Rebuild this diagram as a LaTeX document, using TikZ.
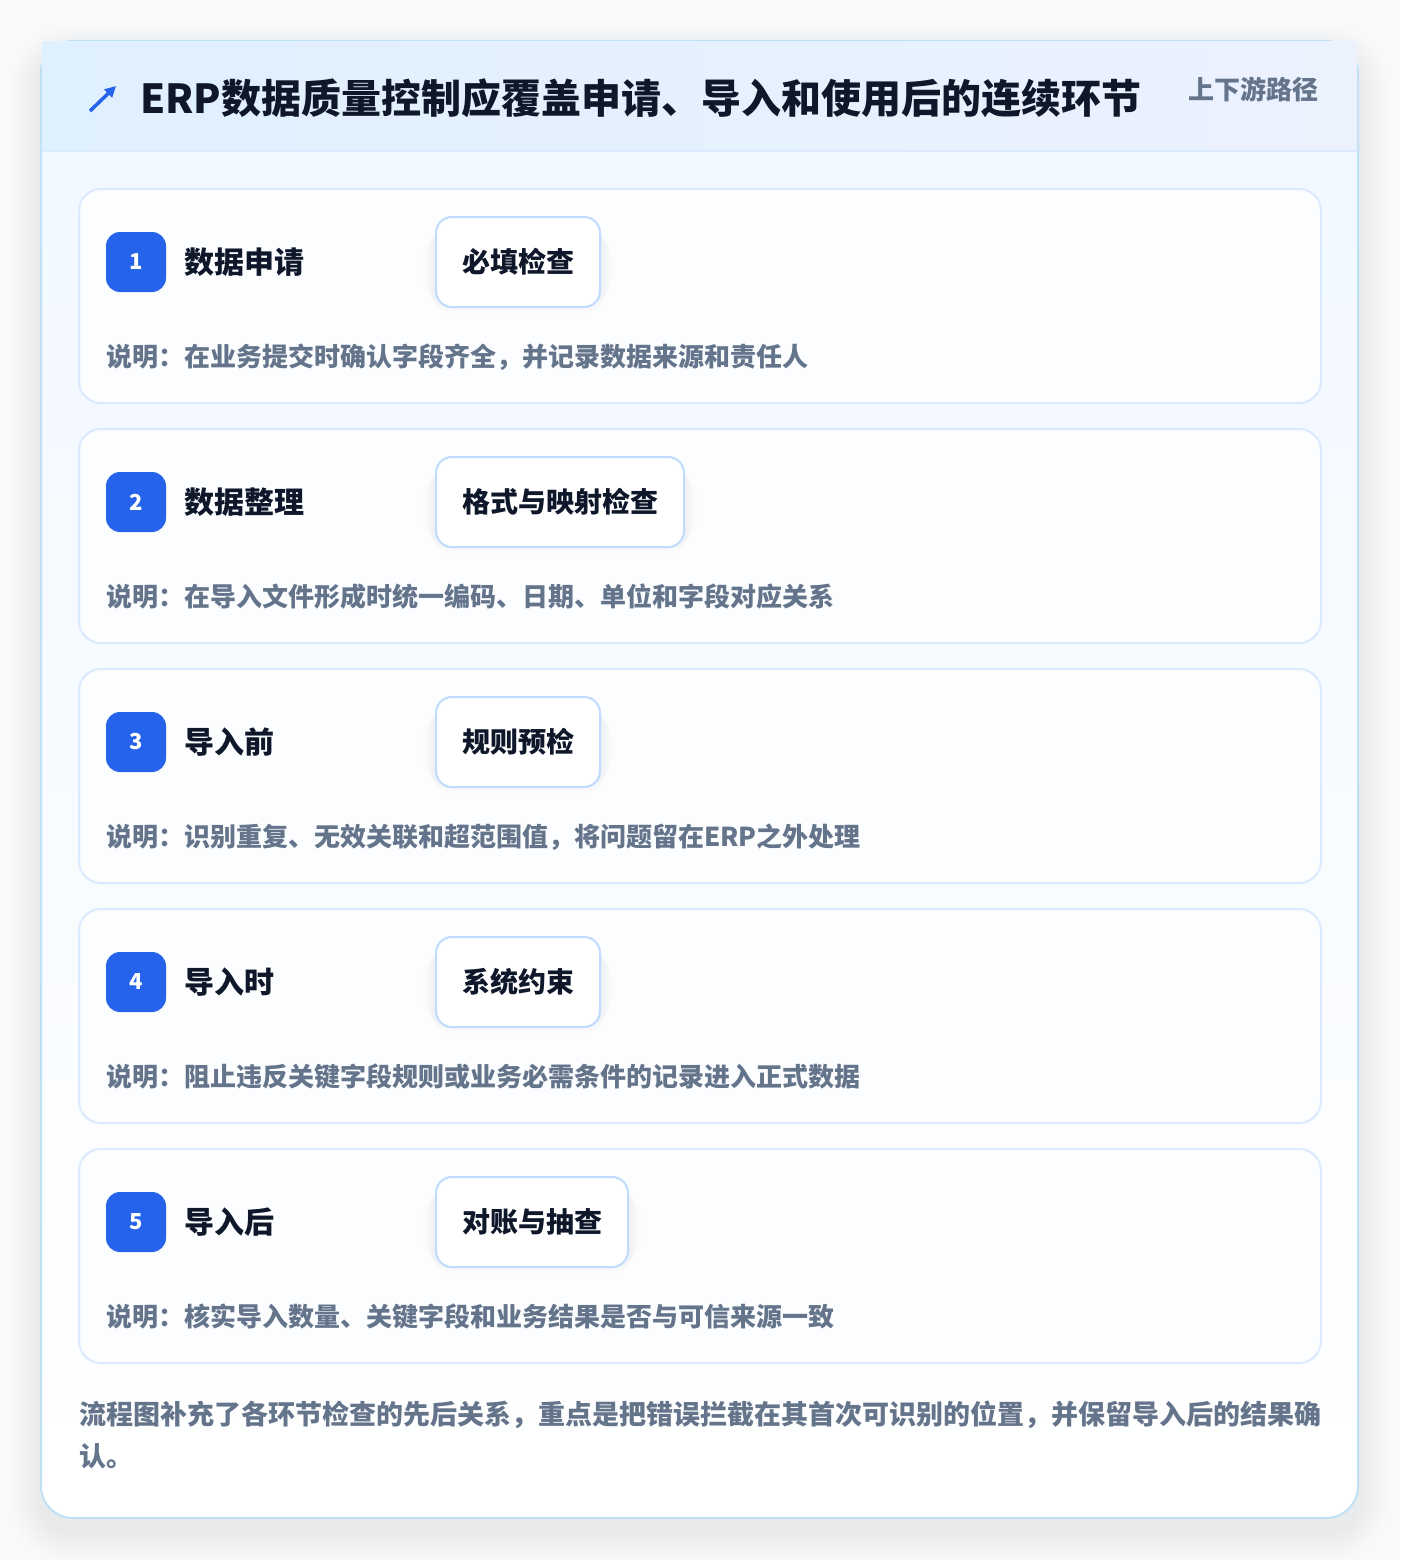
\documentclass[tikz,border=0pt]{standalone}
\usepackage{fontspec}
\setmainfont{Noto Sans CJK SC}
\usetikzlibrary{arrows.meta,positioning}

\definecolor{pagebg}{HTML}{F8F9FA}
\definecolor{inkdark}{HTML}{0F172A}
\definecolor{slatetext}{HTML}{64748B}
\definecolor{badgeblue}{HTML}{2563EB}
\definecolor{cardline}{HTML}{DBEAFE}
\definecolor{outerline}{HTML}{BFE1F6}
\definecolor{tagline}{HTML}{BFDBFE}
\definecolor{headleft}{HTML}{DFF0FE}
\definecolor{headright}{HTML}{ECF1FE}
\definecolor{bodytop}{HTML}{F1F8FF}
\definecolor{cardfill}{HTML}{FBFDFF}

\tikzset{
  stepcard/.style={draw=cardline,line width=2pt,rounded corners=22pt,fill=cardfill},
  badge/.style={fill=badgeblue,rounded corners=14pt,minimum size=60pt,inner sep=0pt,
    text=white,font=\fontsize{22}{26}\selectfont\bfseries},
  steptitle/.style={inner sep=0pt,text=inkdark,font=\fontsize{30}{36}\selectfont\bfseries},
  tagbox/.style={anchor=west,draw=tagline,line width=2pt,fill=white,rounded corners=16pt,
    minimum height=90pt,inner xsep=26pt,text=inkdark,font=\fontsize{28}{34}\selectfont\bfseries},
  softshade/.style={fill=black,opacity=#1},
  notetext/.style={anchor=west,inner sep=0pt,text=slatetext,font=\fontsize{26}{30}\selectfont\bfseries},
}

\begin{document}
\begin{tikzpicture}[x=1pt,y=-1pt]
%page and bounding box
    \fill[pagebg] (0,0) rectangle (1400,1560);
    \useasboundingbox (0,0) rectangle (1400,1560);

%outer card with soft shadow (stacked layers)
    \foreach \s in {2,4,...,30}
        \fill[softshade=0.0035,rounded corners=32pt+\s] (41-\s,41-\s+14) rectangle (1358+\s,1518+\s+14);
    \fill[white,rounded corners=32pt] (41,41) rectangle (1358,1518);
    \begin{scope}
      \clip[rounded corners=32pt] (41,41) rectangle (1358,1518);
      \shade[top color=bodytop,bottom color=white] (41,151) rectangle (1358,1518);
    \end{scope}
    \draw[outerline,line width=2pt,rounded corners=32pt] (41,41) rectangle (1358,1518);

%header band
    \shade[left color=headleft,right color=headright] (42,42) rectangle (1357,151);
    \draw[cardline,line width=2pt] (42,151) -- (1357,151);
    \coordinate (arrowtail) at (90,111);
    \coordinate (arrowhead) at (116,86);
    \draw[badgeblue,line width=3.5pt,-{Triangle[length=11pt,width=11pt]}] (arrowtail) -- (arrowhead);
    \node[anchor=west,inner sep=0pt,text=inkdark,font=\fontsize{40}{46}\selectfont\bfseries]
      (title) at (140,98) {ERP数据质量控制应覆盖申请、导入和使用后的连续环节};
    \node[anchor=east,inner sep=0pt,text=slatetext,font=\fontsize{26}{30}\selectfont\bfseries]
      (route) at (1319,89) {上下游路径};

%five stages
    \foreach \n/\stage/\check/\note in {
        1/数据申请/必填检查/{说明：在业务提交时确认字段齐全，并记录数据来源和责任人},
        2/数据整理/格式与映射检查/{说明：在导入文件形成时统一编码、日期、单位和字段对应关系},
        3/导入前/规则预检/{说明：识别重复、无效关联和超范围值，将问题留在ERP之外处理},
        4/导入时/系统约束/{说明：阻止违反关键字段规则或业务必需条件的记录进入正式数据},
        5/导入后/对账与抽查/{说明：核实导入数量、关键字段和业务结果是否与可信来源一致}}
    {
        \pgfmathsetmacro{\cardy}{189+(\n-1)*240}
        \draw[stepcard] (79,\cardy) rectangle (1321,\cardy+214);
        \node[badge] (badge\n) at (136,\cardy+73) {\n};
        \node[steptitle,right=18pt of badge\n] (stage\n) {\stage};
        \node[tagbox,draw=none,fill=none,text=white!0] (ghost\n) at (435,\cardy+73) {\check};
        \foreach \s in {2,4,...,12}
            \fill[softshade=0.008,rounded corners=16pt+\s]
              ([xshift=-\s pt,yshift=-\s pt-5pt]ghost\n.north west) rectangle ([xshift=\s pt,yshift=\s pt-7pt]ghost\n.south east);
        \node[tagbox] (check\n) at (435,\cardy+73) {\check};
        \node[notetext] (note\n) at (106,\cardy+168) {\note};
    }

%closing remark
    \node[anchor=north west,inner sep=0pt,align=left,text=slatetext,
      font=\fontsize{27}{42}\selectfont\bfseries] (summary) at (79,1401)
      {流程图补充了各环节检查的先后关系，重点是把错误拦截在其首次可识别的位置，并保留导入后的结果确\\认。};
\end{tikzpicture}
\end{document}
